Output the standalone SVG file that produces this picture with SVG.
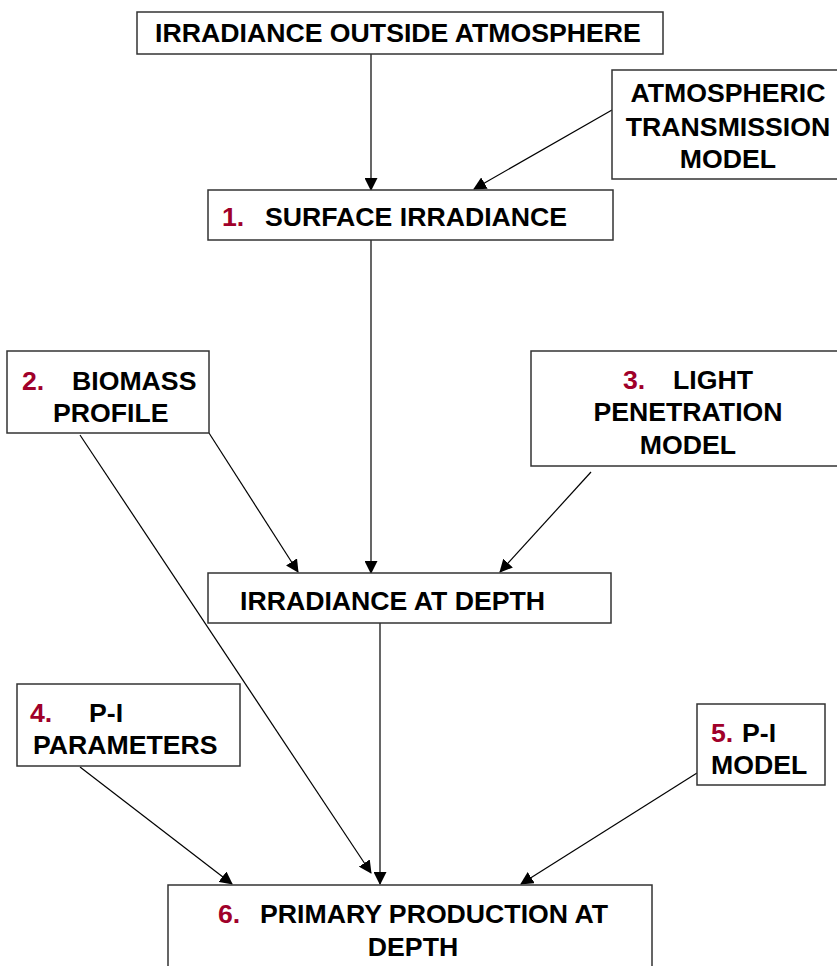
<svg xmlns="http://www.w3.org/2000/svg" width="837" height="966" viewBox="0 0 837 966">
<style>
.box{fill:#fff;stroke:#333;stroke-width:1.5}
.t{font-family:"Liberation Sans",Arial,sans-serif;font-weight:bold;font-size:26.67px;fill:#000}
.r{fill:#a0002a}
.c{stroke:#000;stroke-width:1.2;fill:none;marker-end:url(#ah)}
</style>
<defs>
<marker id="ah" markerWidth="13" markerHeight="13" refX="12" refY="6.5" orient="auto" markerUnits="userSpaceOnUse">
<path d="M0,0 L13,6.5 L0,13 Z" fill="#000"/>
</marker>
</defs>
<rect width="837" height="966" fill="#fff"/>
<g id="connectors">
<line class="c" x1="371" y1="54" x2="371" y2="190"/>
<line class="c" x1="612" y1="110" x2="474" y2="189"/>
<line class="c" x1="371" y1="240" x2="371" y2="573"/>
<line class="c" x1="209" y1="433" x2="298" y2="572"/>
<line class="c" x1="591" y1="472" x2="500" y2="572"/>
<line class="c" x1="80" y1="435" x2="371" y2="873"/>
<line class="c" x1="380" y1="623" x2="380" y2="884"/>
<line class="c" x1="80" y1="767" x2="232" y2="884"/>
<line class="c" x1="697" y1="773" x2="521" y2="884"/>
</g>
<g id="n_outside">
<rect class="box" x="137" y="12" width="526" height="42"/>
<text class="t" x="398" y="42" text-anchor="middle">IRRADIANCE OUTSIDE ATMOSPHERE</text>
</g>
<g id="n_atm">
<rect class="box" x="612" y="70" width="240" height="109"/>
<text class="t" x="728" y="102" text-anchor="middle">ATMOSPHERIC</text>
<text class="t" x="728" y="136" text-anchor="middle">TRANSMISSION</text>
<text class="t" x="728" y="168" text-anchor="middle">MODEL</text>
</g>
<g id="n1">
<rect class="box" x="208" y="190" width="405" height="50"/>
<text class="t" x="222" y="226"><tspan class="r">1.</tspan><tspan x="265">SURFACE IRRADIANCE</tspan></text>
</g>
<g id="n2">
<rect class="box" x="7" y="351" width="202" height="82"/>
<text class="t" x="22" y="390"><tspan class="r">2.</tspan><tspan x="72">BIOMASS</tspan></text>
<text class="t" x="53" y="422">PROFILE</text>
</g>
<g id="n3">
<rect class="box" x="531" y="351" width="320" height="115"/>
<text class="t" x="623" y="389"><tspan class="r">3.</tspan><tspan x="673">LIGHT</tspan></text>
<text class="t" x="688" y="421" text-anchor="middle">PENETRATION</text>
<text class="t" x="688" y="454" text-anchor="middle">MODEL</text>
</g>
<g id="n_depth">
<rect class="box" x="208" y="573" width="403" height="50"/>
<text class="t" x="240" y="610">IRRADIANCE AT DEPTH</text>
</g>
<g id="n4">
<rect class="box" x="17" y="684" width="223" height="82"/>
<text class="t" x="30" y="722"><tspan class="r">4.</tspan><tspan x="89">P-I</tspan></text>
<text class="t" x="33" y="754">PARAMETERS</text>
</g>
<g id="n5">
<rect class="box" x="697" y="704" width="128" height="81"/>
<text class="t" x="711" y="742"><tspan class="r">5.</tspan><tspan x="742">P-I</tspan></text>
<text class="t" x="711" y="774">MODEL</text>
</g>
<g id="n6">
<rect class="box" x="168" y="885" width="484" height="100"/>
<text class="t" x="218" y="923"><tspan class="r">6.</tspan><tspan x="260">PRIMARY PRODUCTION AT</tspan></text>
<text class="t" x="413" y="956" text-anchor="middle">DEPTH</text>
</g>
</svg>
